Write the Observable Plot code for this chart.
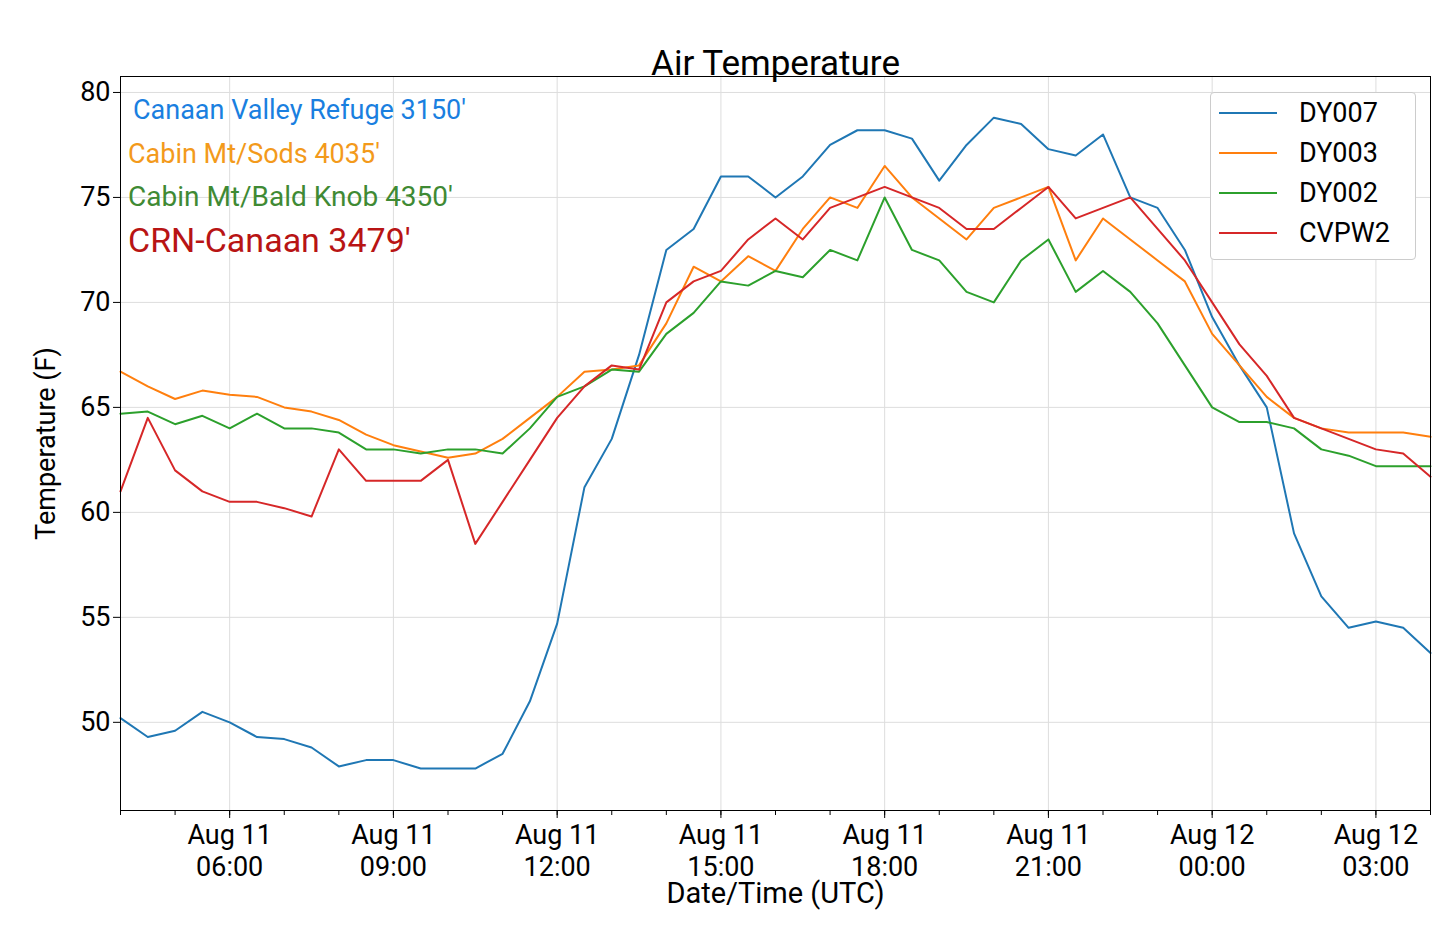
<!DOCTYPE html>
<html><head>
<script src="https://cdn.jsdelivr.net/npm/d3@7"></script>
<script src="https://cdn.jsdelivr.net/npm/@observablehq/plot@0.6"></script>
<style>
body{margin:0;background:#fff;font-family:Roboto,sans-serif}
#wrap{position:relative;width:1438px;height:940px}
.lab{position:absolute;font-size:27px;white-space:nowrap}
#legend{position:absolute;left:1210px;top:92px;width:204px;height:166px;border:1px solid #ccc;border-radius:4px;background:#fff;font-size:27px}
#legend div{display:flex;align-items:center;height:40px;margin-left:8px}
#legend span{display:inline-block;width:58px;height:2px;margin-right:22px}
</style></head><body>
<div id="wrap"></div>
<script>
const hours = d3.range(0, 24.5, 0.5);
const series = ["DY007","DY003","DY002","CVPW2"];
const colors = ["#1f77b4","#ff7f0e","#2ca02c","#d62728"];
const DY007 = [50.2,49.3,49.6,50.5,50.0,49.3,49.2,48.8,47.9,48.2,48.2,47.8,47.8,47.8,48.5,51,54.7,61.2,63.5,67.5,72.5,73.5,76,76,75,76,77.5,78.2,78.2,77.8,75.8,77.5,78.8,78.5,77.3,77,78,75,74.5,72.5,69.3,67,65,59,56,54.5,54.8,54.5,53.3];
const DY003 = [66.7,66,65.4,65.8,65.6,65.5,65,64.8,64.4,63.7,63.2,62.9,62.6,62.8,63.5,64.5,65.5,66.7,66.8,67,69,71.7,71,72.2,71.5,73.5,75,74.5,76.5,75,74,73,74.5,75,75.5,72,74,73,72,71,68.5,67,65.5,64.5,64,63.8,63.8,63.8,63.6];
const DY002 = [64.7,64.8,64.2,64.6,64,64.7,64,64,63.8,63,63,62.8,63,63,62.8,64,65.5,66,66.8,66.7,68.5,69.5,71,70.8,71.5,71.2,72.5,72,75,72.5,72,70.5,70,72,73,70.5,71.5,70.5,69,67,65,64.3,64.3,64,63,62.7,62.2,62.2,62.2];
const CVPW2 = [61,64.5,62,61,60.5,60.5,60.2,59.8,63,61.5,61.5,61.5,62.5,58.5,60.5,62.5,64.5,66,67,66.8,70,71,71.5,73,74,73,74.5,75,75.5,75,74.5,73.5,73.5,74.5,75.5,74,74.5,75,73.5,72,70,68,66.5,64.5,64,63.5,63,62.8,61.7];
const values = {DY007, DY003, DY002, CVPW2};
const t0 = Date.UTC(2020,7,11,4);
const data = series.flatMap(s => hours.map((h,i) => ({s, date:new Date(t0+h*3600e3), v:values[s][i]})));
const yTicks = [50,55,60,65,70,75,80];
const fmt = d => d3.utcFormat("%b %d")(d) + "\n" + d3.utcFormat("%H:%M")(d);
const end = new Date(t0+24*3600e3+1);
const chart = Plot.plot({
  width:1438, height:940, marginTop:76, marginBottom:130, marginLeft:120, marginRight:8,
  style:{fontFamily:"Roboto,sans-serif", fontSize:"27px", color:"#000"},
  x:{type:"utc", domain:[new Date(t0), new Date(t0+24*3600e3)]},
  y:{domain:[45.8,80.76]},
  color:{domain:series, range:colors},
  marks:[
    Plot.gridX(d3.utcHour.every(3).range(new Date(t0), end), {stroke:"#ddd", strokeOpacity:1}),
    Plot.gridY(yTicks, {stroke:"#ddd", strokeOpacity:1}),
    Plot.axisX(d3.utcHour.every(1).range(new Date(t0), end), {tickSize:5, text:null, label:null}),
    Plot.axisX(d3.utcHour.every(3).range(new Date(t0), end), {tickSize:8, tickFormat:fmt, fontSize:27, tickPadding:2, lineHeight:1.2, label:null}),
    Plot.text(["Date/Time (UTC)"], {frameAnchor:"bottom", dy:92, fontSize:29, fill:"#000"}),
    Plot.axisY(yTicks, {tickSize:7, fontSize:27, label:"Temperature (F)", labelAnchor:"center", labelArrow:"none", labelOffset:85}),
    Plot.line(data, {x:"date", y:"v", stroke:"s", strokeWidth:2}),
    Plot.frame({stroke:"#000"}),
    Plot.text(["Air Temperature"], {frameAnchor:"top", dy:-26, fontSize:35, fill:"#000"})
  ]
});
const wrap = document.getElementById("wrap");
wrap.appendChild(chart);
const labs = [["Canaan Valley Refuge 3150'","#1a7fe0",133,94,27],["Cabin Mt/Sods 4035'","#f39a1b",128,138,27],["Cabin Mt/Bald Knob 4350'","#3f8a34",128,180,28],["CRN-Canaan 3479'","#b81414",128,220,34]];
for (const [t,c,x,y,fs] of labs){const d=document.createElement("div");d.className="lab";d.textContent=t;d.style.color=c;d.style.left=x+"px";d.style.top=y+"px";d.style.fontSize=fs+"px";wrap.appendChild(d);}
const lg=document.createElement("div");lg.id="legend";
lg.innerHTML=series.map((s,i)=>`<div><span style="background:${colors[i]}"></span>${s}</div>`).join("");
lg.style.paddingTop="0px";
wrap.appendChild(lg);
</script></body></html>
